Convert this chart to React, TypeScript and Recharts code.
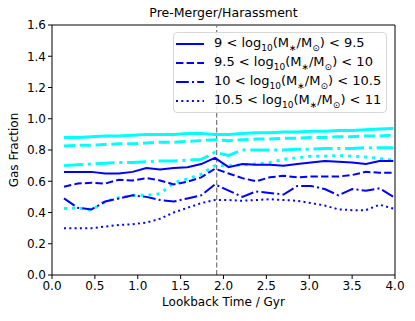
import React from "react";
import { LineChart, Line, XAxis, YAxis, ReferenceLine } from "recharts";

// lookback time of each snapshot (Gyr)
const times = [
  0.14, 0.3, 0.46, 0.62, 0.78, 0.94, 1.1, 1.26, 1.42, 1.58, 1.74, 1.9, 2.06,
  2.22, 2.38, 2.54, 2.7, 2.86, 3.02, 3.18, 3.34, 3.5, 3.66, 3.82, 3.98,
];

// blue: 9 - 9.5, 9.5 - 10, 10 - 10.5, 10.5 - 11
const blue1 = [0.66, 0.66, 0.66, 0.65, 0.65, 0.66, 0.685, 0.675, 0.685, 0.69, 0.71, 0.75, 0.69, 0.71, 0.705, 0.705, 0.7, 0.71, 0.72, 0.73, 0.725, 0.72, 0.71, 0.73, 0.73];
const blue2 = [0.565, 0.585, 0.59, 0.585, 0.61, 0.605, 0.62, 0.605, 0.58, 0.597, 0.625, 0.68, 0.65, 0.62, 0.6, 0.625, 0.635, 0.625, 0.63, 0.63, 0.63, 0.64, 0.66, 0.655, 0.655];
const blue3 = [0.49, 0.43, 0.42, 0.47, 0.49, 0.51, 0.5, 0.48, 0.47, 0.49, 0.51, 0.58, 0.54, 0.5, 0.535, 0.525, 0.515, 0.57, 0.57, 0.55, 0.51, 0.55, 0.54, 0.555, 0.5];
const blue4 = [0.3, 0.3, 0.3, 0.31, 0.32, 0.325, 0.335, 0.36, 0.4, 0.43, 0.46, 0.48, 0.48, 0.475, 0.48, 0.485, 0.48, 0.475, 0.46, 0.445, 0.42, 0.415, 0.415, 0.45, 0.425];

// cyan counterparts
const cyan1 = [0.88, 0.88, 0.885, 0.89, 0.89, 0.895, 0.9, 0.9, 0.9, 0.905, 0.905, 0.9, 0.9, 0.905, 0.91, 0.91, 0.915, 0.915, 0.92, 0.92, 0.925, 0.925, 0.93, 0.935, 0.937];
const cyan2 = [0.825, 0.83, 0.83, 0.835, 0.84, 0.84, 0.845, 0.85, 0.85, 0.855, 0.86, 0.865, 0.86, 0.865, 0.87, 0.87, 0.875, 0.875, 0.88, 0.88, 0.885, 0.885, 0.89, 0.89, 0.895];
const cyan3 = [0.7, 0.705, 0.71, 0.715, 0.72, 0.72, 0.725, 0.73, 0.73, 0.735, 0.74, 0.785, 0.765, 0.8, 0.8, 0.8, 0.8, 0.805, 0.805, 0.81, 0.81, 0.81, 0.815, 0.815, 0.815];
const cyan4 = [0.425, 0.43, 0.415, 0.47, 0.495, 0.51, 0.51, 0.52, 0.59, 0.615, 0.645, 0.7, 0.7, 0.705, 0.71, 0.72, 0.74, 0.75, 0.76, 0.76, 0.765, 0.76, 0.755, 0.745, 0.735];

const mergerTime = 1.92;
const xTicks = [0, 0.5, 1, 1.5, 2, 2.5, 3, 3.5, 4];
const yTicks = [0, 0.2, 0.4, 0.6, 0.8, 1.0, 1.2, 1.4, 1.6];

const legendLabels = [
  ["9", "9.5"],
  ["9.5", "10"],
  ["10", "10.5"],
  ["10.5", "11"],
];

const dashes = ["", "7.4 3.2", "12.8 3.2 2 3.2", "2 3.3"];
const cyanDashes = ["", "11 4.8", "19 4.8 3 4.8", "3 5"];

const data = times.map((t, i) => ({
  t,
  b1: blue1[i],
  b2: blue2[i],
  b3: blue3[i],
  b4: blue4[i],
  c1: cyan1[i],
  c2: cyan2[i],
  c3: cyan3[i],
  c4: cyan4[i],
}));

const font = "'DejaVu Sans', sans-serif";
const tickStyle = { fontSize: 12, fill: "#000", fontFamily: font };

export default function App() {
  return (
    <div style={{ position: "absolute", left: 0, top: 0, width: 415, height: 321, background: "#fff", fontFamily: font }}>
      <LineChart width={415} height={321} data={data} margin={{ top: 25, right: 20, bottom: 16, left: 12 }}>
        <XAxis
          dataKey="t"
          type="number"
          domain={[0, 4]}
          ticks={xTicks}
          tickFormatter={(v: number) => v.toFixed(1)}
          tick={tickStyle}
          tickSize={4}
          height={30}
          stroke="#000"
          allowDataOverflow
        />
        <YAxis
          type="number"
          domain={[0, 1.6]}
          ticks={yTicks}
          tickFormatter={(v: number) => v.toFixed(1)}
          tick={tickStyle}
          tickSize={4}
          width={40}
          stroke="#000"
          allowDataOverflow
        />
        <ReferenceLine y={1.6} stroke="#000" />
        <ReferenceLine x={4} stroke="#000" />
        <ReferenceLine x={mergerTime} stroke="#808080" strokeWidth={1.3} strokeDasharray="5 2.5" />
        {["c1", "c2", "c3", "c4"].map((k, i) => (
          <Line key={k} dataKey={k} stroke="#00ffff" strokeWidth={3} strokeDasharray={cyanDashes[i]} dot={false} type="linear" isAnimationActive={false} />
        ))}
        {["b1", "b2", "b3", "b4"].map((k, i) => (
          <Line key={k} dataKey={k} stroke="#0000ff" strokeWidth={2} strokeDasharray={dashes[i]} dot={false} type="linear" isAnimationActive={false} />
        ))}
      </LineChart>

      <div style={{ position: "absolute", left: 52, width: 343, top: 5, textAlign: "center", fontSize: 12.5 }}>
        Pre-Merger/Harassment
      </div>
      <div style={{ position: "absolute", left: 52, width: 343, top: 295, textAlign: "center", fontSize: 12 }}>
        Lookback Time / Gyr
      </div>
      <div
        style={{
          position: "absolute",
          left: 14,
          top: 150,
          transform: "translate(-50%, -50%) rotate(-90deg)",
          fontSize: 12,
          whiteSpace: "nowrap",
        }}
      >
        Gas Fraction
      </div>

      <div
        style={{
          position: "absolute",
          left: 173,
          top: 32,
          width: 214,
          height: 81,
          border: "1px solid #d8d8d8",
          borderRadius: 4,
          background: "rgba(255,255,255,0.85)",
          boxSizing: "border-box",
          padding: "1px 0 0 0",
        }}
      >
        {legendLabels.map(([lo, hi], i) => (
          <div key={i} style={{ display: "flex", alignItems: "center", height: 19, fontSize: 13, whiteSpace: "nowrap" }}>
            <svg width={40} height={10} style={{ flex: "none" }}>
              <line x1={2} x2={30} y1={5} y2={5} stroke="#0000ff" strokeWidth={2} strokeDasharray={dashes[i]} />
            </svg>
            <span>
              {lo} &lt; log<sub style={{ fontSize: 9 }}>10</sub>(M<sub style={{ fontSize: 9 }}>∗</sub>/M<sub style={{ fontSize: 9 }}>⊙</sub>) &lt; {hi}
            </span>
          </div>
        ))}
      </div>
    </div>
  );
}
